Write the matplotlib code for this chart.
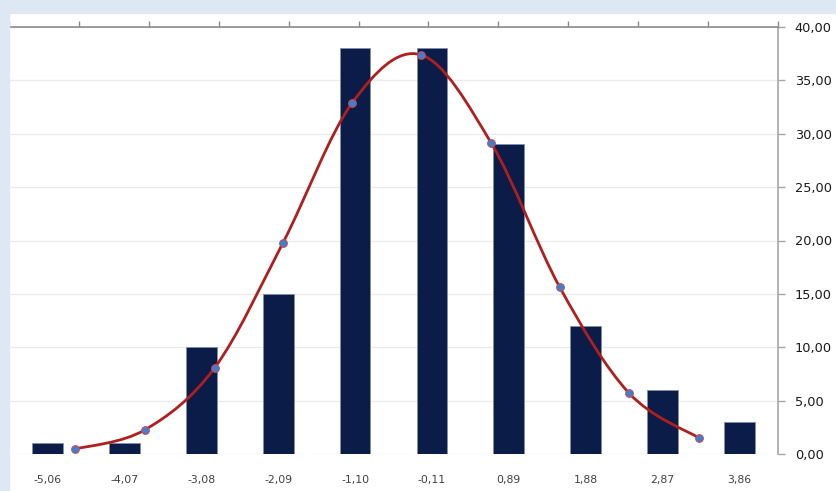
import numpy as np
import matplotlib.pyplot as plt
from matplotlib.path import Path
from matplotlib.patches import PathPatch
from matplotlib.ticker import FuncFormatter

# histogram bins (category labels) and counts
bin_labels = ['-5,06', '-4,07', '-3,08', '-2,09', '-1,10', '-0,11', '0,89', '1,88', '2,87', '3,86']
counts = [1, 1, 10, 15, 38, 38, 29, 12, 6, 3]

# fitted normal curve, drawn on the secondary (top) axis
curve_x = [0.95, 1.94, 2.94, 3.92, 4.91, 5.89, 6.90, 7.88, 8.87, 9.87]
curve_y = [0.47, 2.25, 8.06, 19.8, 32.9, 37.4, 29.1, 15.6, 5.7, 1.5]

plt.rcParams['font.family'] = ['DejaVu Sans']

fig = plt.figure(figsize=(8.37, 4.91), dpi=100)
fig.patch.set_facecolor('white')
# light blue frame at top and left
fig.patches.append(plt.Rectangle((0, 1 - 13 / 491), 1, 13 / 491, transform=fig.transFigure,
                                 color='#dde8f4', zorder=0))
fig.patches.append(plt.Rectangle((0, 0), 9 / 837, 1, transform=fig.transFigure,
                                 color='#dde8f4', zorder=0))

ax = fig.add_axes([9 / 837, 1 - 454 / 491, (778 - 9) / 837, (454 - 27) / 491])
xpos = np.arange(len(counts))
ax.bar(xpos, counts, width=0.4, color='#0b1c48', edgecolor='#7f8fae', linewidth=0.6, zorder=3)
ax.set_xlim(-0.5, len(counts) - 0.5)
ax.set_ylim(0, 40)
ax.set_yticks(np.arange(0, 41, 5))
ax.yaxis.set_major_formatter(FuncFormatter(lambda v, p: f'{v:.2f}'.replace('.', ',')))
ax.yaxis.tick_right()
ax.grid(axis='y', color='#ebebeb', linewidth=1, zorder=0)
ax.set_xticks(xpos)
ax.set_xticklabels(bin_labels, fontsize=7.8, color='#404040')
ax.tick_params(axis='x', length=0, pad=15)
ax.tick_params(axis='y', direction='out', length=5, width=1, color='#a6a6a6',
               labelsize=9.3, labelcolor='#1a1a1a', pad=7)
for s in ['left', 'bottom', 'top']:
    ax.spines[s].set_visible(False)
ax.spines['right'].set_color('#a6a6a6')
ax.spines['right'].set_linewidth(1.2)

# secondary axis for the curve
ax2 = ax.twiny()
ax2.set_xlim(0, 11)
ax2.set_ylim(0, 40)
ax2.set_xticks(np.arange(0, 12))
ax2.set_xticklabels([])
ax2.tick_params(axis='x', direction='out', length=4, width=1, color='#8c8c8c')
for s in ['left', 'bottom', 'right']:
    ax2.spines[s].set_visible(False)
ax2.spines['top'].set_color('#8c8c8c')
ax2.spines['top'].set_linewidth(1.2)

# smoothed line (bezier through points, like a spreadsheet smooth line)
pts = np.column_stack([curve_x, curve_y])
verts = [pts[0]]
codes = [Path.MOVETO]
n = len(pts)
for i in range(n - 1):
    p0 = pts[i - 1] if i > 0 else pts[i]
    p3 = pts[i + 2] if i + 2 < n else pts[i + 1]
    c1 = pts[i] + (pts[i + 1] - p0) / 6
    c2 = pts[i + 1] - (p3 - pts[i]) / 6
    verts += [c1, c2, pts[i + 1]]
    codes += [Path.CURVE4] * 3
ax2.add_patch(PathPatch(Path(verts, codes), facecolor='none', edgecolor='#b01e1e',
                        linewidth=2, zorder=4))
ax2.plot(curve_x, curve_y, linestyle='none', marker='o', markersize=5.5,
         markerfacecolor='#3b7fd6', markeredgecolor='#c0504d', markeredgewidth=0.8, zorder=5)

fig.savefig('out.png', dpi=100)
